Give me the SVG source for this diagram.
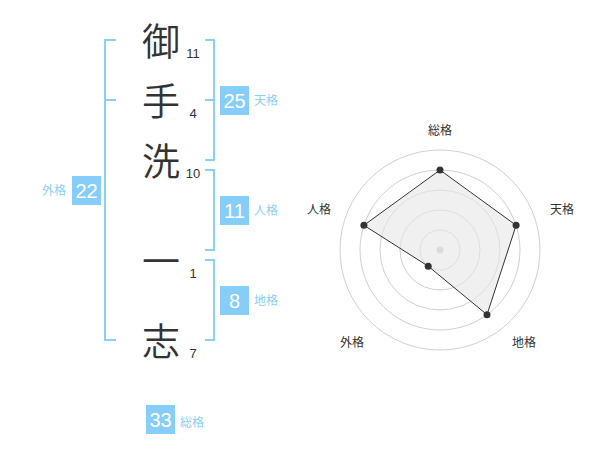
<svg xmlns="http://www.w3.org/2000/svg" width="600" height="470" viewBox="0 0 600 470">
<style>
.kanji{font-family:"Noto Sans CJK JP","Noto Sans CJK SC",sans-serif;font-size:38px;font-weight:350;fill:#333;text-anchor:middle}
.stroke{font-family:"Liberation Sans",Arial,sans-serif;font-size:13px;fill:#333;text-anchor:middle}
.box{fill:#86cdf9}
.boxnum{font-family:"Liberation Sans",Arial,sans-serif;font-size:20px;fill:#fff;text-anchor:middle}
.lbl{font-family:"Noto Sans CJK JP","Noto Sans CJK SC",sans-serif;font-size:12px;fill:#8ccff5}
.br{fill:none;stroke:#8ccff8;stroke-width:2}
.ring{fill:none;stroke:#d0d0d0;stroke-width:1}
.axis{font-family:"Noto Sans CJK JP","Noto Sans CJK SC",sans-serif;font-size:12px;fill:#333;text-anchor:middle}
.dot{fill:#333}
</style>
<rect width="600" height="470" fill="#fff"/>
<g id="name">
<text class="kanji" x="161" y="55">御</text>
<text class="kanji" x="161" y="115">手</text>
<text class="kanji" x="161" y="175">洗</text>
<text class="kanji" x="161" y="275">一</text>
<text class="kanji" x="161" y="355">志</text>
<text class="stroke" x="193" y="58">11</text>
<text class="stroke" x="193" y="118">4</text>
<text class="stroke" x="193" y="178">10</text>
<text class="stroke" x="193" y="278">1</text>
<text class="stroke" x="193" y="358">7</text>
</g>
<g id="connectors">
<path class="br" d="M116,40 H105 V340 H116 M105,100 H116"/>
<path class="br" d="M205,40 H214 V160 H205 M205,100 H214"/>
<path class="br" d="M205,170 H214 V250 H205"/>
<path class="br" d="M205,260 H214 V340 H205"/>
</g>
<g id="tenkaku">
<rect class="box" x="220" y="86" width="29" height="29"/>
<text class="boxnum" x="234.5" y="107.5">25</text>
<text class="lbl" x="254" y="105">天格</text>
</g>
<g id="jinkaku">
<rect class="box" x="220" y="196" width="29" height="29"/>
<text class="boxnum" x="234.5" y="217.5">11</text>
<text class="lbl" x="254" y="215">人格</text>
</g>
<g id="chikaku">
<rect class="box" x="220" y="286" width="29" height="29"/>
<text class="boxnum" x="234.5" y="307.5">8</text>
<text class="lbl" x="254" y="305">地格</text>
</g>
<g id="gaikaku">
<rect class="box" x="72" y="176" width="29" height="29"/>
<text class="boxnum" x="86.5" y="197.5">22</text>
<text class="lbl" x="66" y="195" text-anchor="end">外格</text>
</g>
<g id="soukaku">
<rect class="box" x="146" y="405" width="29" height="29"/>
<text class="boxnum" x="160.5" y="426.5">33</text>
<text class="lbl" x="180" y="427">総格</text>
</g>
<g id="radar">
<circle class="ring" cx="440" cy="250" r="20"/>
<circle class="ring" cx="440" cy="250" r="40"/>
<circle class="ring" cx="440" cy="250" r="60"/>
<circle class="ring" cx="440" cy="250" r="80"/>
<circle class="ring" cx="440" cy="250" r="100"/>
<circle cx="440" cy="250" r="3.5" fill="#ccc"/>
<polygon points="440,170 516.1,225.3 487,314.7 428.2,266.2 363.9,225.3" fill="#e6e6e6" fill-opacity="0.6" stroke="#333" stroke-width="1"/>
<circle class="dot" cx="440" cy="170" r="3.5"/>
<circle class="dot" cx="516.1" cy="225.3" r="3.5"/>
<circle class="dot" cx="487" cy="314.7" r="3.5"/>
<circle class="dot" cx="428.2" cy="266.2" r="3.5"/>
<circle class="dot" cx="363.9" cy="225.3" r="3.5"/>
<text class="axis" x="440" y="135">総格</text>
<text class="axis" x="562" y="213.5">天格</text>
<text class="axis" x="524" y="347">地格</text>
<text class="axis" x="352" y="347">外格</text>
<text class="axis" x="319" y="213.5">人格</text>
</g>
</svg>
